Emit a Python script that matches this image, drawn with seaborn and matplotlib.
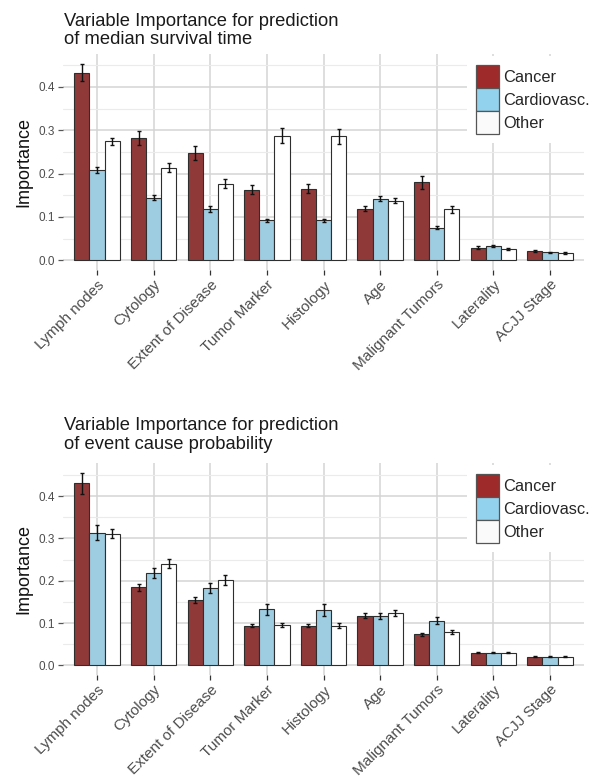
import numpy as np
import pandas as pd
import matplotlib
matplotlib.use("Agg")
import matplotlib.pyplot as plt
import seaborn as sns
from matplotlib.patches import Patch
from matplotlib.ticker import MultipleLocator

# ---------------- data ----------------
variables = ["Lymph nodes", "Cytology", "Extent of Disease", "Tumor Marker",
             "Histology", "Age", "Malignant Tumors", "Laterality", "ACJJ Stage"]
causes = ["Cancer", "Cardiovasc.", "Other"]

# median survival time
surv_cancer = [0.433, 0.282, 0.247, 0.163, 0.165, 0.119, 0.180, 0.029, 0.021]
surv_cancer_err = [0.020, 0.016, 0.016, 0.011, 0.011, 0.006, 0.015, 0.003, 0.002]
surv_cardio = [0.208, 0.144, 0.118, 0.092, 0.092, 0.142, 0.075, 0.033, 0.018]
surv_cardio_err = [0.007, 0.006, 0.0065, 0.004, 0.004, 0.0065, 0.0035, 0.003, 0.002]
surv_other = [0.274, 0.213, 0.177, 0.287, 0.286, 0.137, 0.117, 0.026, 0.016]
surv_other_err = [0.009, 0.0105, 0.0095, 0.0175, 0.0175, 0.0055, 0.0075, 0.003, 0.002]

# event cause probability
event_cancer = [0.430, 0.184, 0.154, 0.094, 0.094, 0.117, 0.073, 0.030, 0.020]
event_cancer_err = [0.025, 0.0085, 0.0075, 0.004, 0.004, 0.0055, 0.004, 0.002, 0.001]
event_cardio = [0.313, 0.218, 0.183, 0.132, 0.131, 0.117, 0.105, 0.030, 0.020]
event_cardio_err = [0.0175, 0.0125, 0.0115, 0.0135, 0.014, 0.0065, 0.0085, 0.002, 0.001]
event_other = [0.311, 0.240, 0.202, 0.095, 0.094, 0.124, 0.079, 0.030, 0.020]
event_other_err = [0.011, 0.0105, 0.0115, 0.0055, 0.005, 0.0065, 0.0055, 0.002, 0.001]

titles_top = ["Variable Importance for prediction", "of median survival time"]
titles_bottom = ["Variable Importance for prediction", "of event cause probability"]

colors = {"Cancer": "#9E2A2A", "Cardiovasc.": "#93D2EC", "Other": "#FFFFFF"}
legend_colors = {"Cancer": "#9E2A2A", "Cardiovasc.": "#93D2EC", "Other": "#FAFAFA"}

# ---------------- style ----------------
sns.set_style("white")
plt.rcParams["font.family"] = ["Liberation Sans", "DejaVu Sans"]

W, H = 602, 781
fig = plt.figure(figsize=(W / 100, H / 100), dpi=100)


def px_axes(left, top, right, bottom):
    return fig.add_axes([left / W, 1 - bottom / H, (right - left) / W, (bottom - top) / H])


def draw(ax, series, errs, ylim, title_lines, title_baselines):
    df = pd.DataFrame({
        "Variable": variables * 3,
        "Cause": [c for c in causes for _ in variables],
        "Importance": [v for s in series for v in s],
    })
    sns.barplot(data=df, x="Variable", y="Importance", hue="Cause",
                order=variables, hue_order=causes, palette=colors,
                errorbar=None, width=0.8, edgecolor="#2E2E2E", linewidth=0.8,
                legend=False, ax=ax, zorder=2)
    for cont, vals, err in zip(ax.containers, series, errs):
        xs = [b.get_x() + b.get_width() / 2 for b in cont]
        ax.errorbar(xs, vals, yerr=err, fmt="none", ecolor="#111111",
                    elinewidth=1.0, capsize=1.3, capthick=1.0, zorder=3)

    ax.set_xlim(-0.6, len(variables) - 0.4)
    ax.set_ylim(*ylim)
    ax.yaxis.set_major_locator(MultipleLocator(0.1))
    ax.yaxis.set_minor_locator(MultipleLocator(0.05))
    ax.set_axisbelow(True)
    ax.grid(which="major", axis="both", color="#D4D4D4", linewidth=1.1)
    ax.grid(which="minor", axis="y", color="#EBEBEB", linewidth=0.8)
    for s in ax.spines.values():
        s.set_visible(False)

    ax.tick_params(axis="y", which="major", left=True, length=3.5, width=0.9,
                   color="#555555", labelsize=8.5, labelcolor="#4D4D4D", pad=2)
    ax.tick_params(axis="y", which="minor", left=False, length=0)
    ax.tick_params(axis="x", which="major", bottom=True, length=3.5, width=0.9,
                   color="#333333", labelsize=11, labelcolor="#4D4D4D", pad=2)
    for lbl in ax.get_xticklabels():
        lbl.set_rotation(45)
        lbl.set_ha("right")
        lbl.set_va("top")
        lbl.set_rotation_mode("anchor")

    ax.set_xlabel("")
    ax.set_ylabel("Importance", fontsize=13, color="#111111")
    ax.yaxis.set_label_coords(-31 / 521, 0.5)

    handles = [Patch(facecolor=legend_colors[c], edgecolor="#555555", linewidth=0.9)
               for c in causes]
    leg = ax.legend(handles, causes, loc="upper left",
                    bbox_to_anchor=((467 - 63) / 521, 1.0 - 2 / 216), borderaxespad=0,
                    frameon=True, fontsize=11.8, handlelength=1.4, handleheight=1.78,
                    handletextpad=0.25, labelspacing=0.0, borderpad=0.55)
    leg.get_frame().set_facecolor("white")
    leg.get_frame().set_edgecolor("none")
    leg.get_frame().set_alpha(1.0)
    leg.set_zorder(5)

    for line, yb in zip(title_lines, title_baselines):
        fig.text(64 / W, 1 - yb / H, line, fontsize=13.2, color="#1A1A1A",
                 ha="left", va="baseline")


ax1 = px_axes(63, 54, 584, 270)
draw(ax1, [surv_cancer, surv_cardio, surv_other],
     [surv_cancer_err, surv_cardio_err, surv_other_err],
     (-0.0227, 0.476), titles_top, [26.5, 44.5])

ax2 = px_axes(63, 463, 584, 675)
draw(ax2, [event_cancer, event_cardio, event_other],
     [event_cancer_err, event_cardio_err, event_other_err],
     (-0.0228, 0.478), titles_bottom, [430.5, 449.0])

fig.savefig("out.png", dpi=100)
